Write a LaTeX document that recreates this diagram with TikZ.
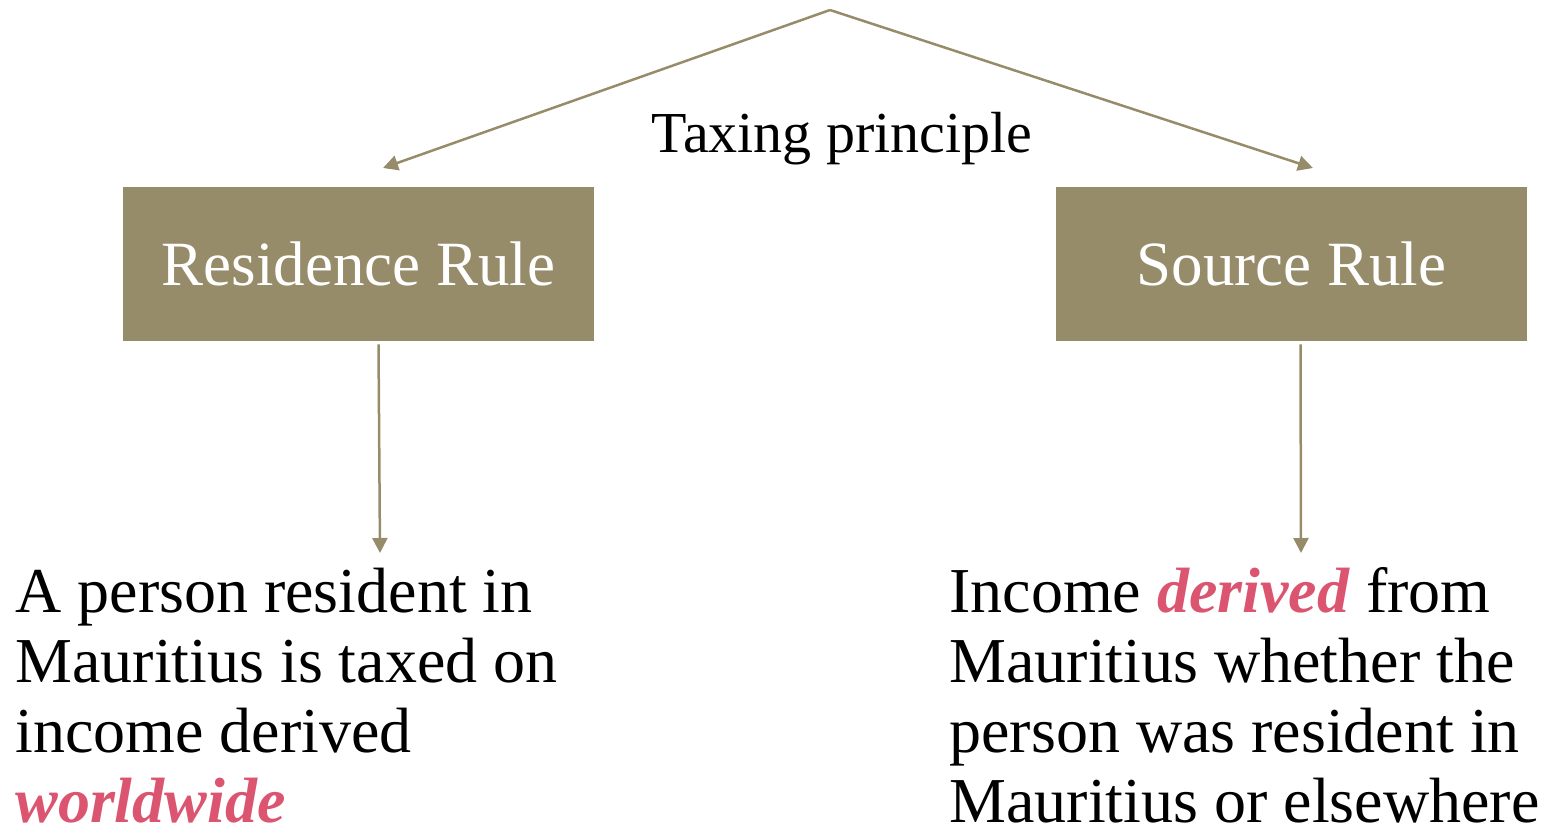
\documentclass[tikz,border=0pt]{standalone}
\usepackage{fontspec}
\setmainfont{Liberation Serif}
\usepackage{xcolor}
\usetikzlibrary{positioning,calc,arrows.meta}

\definecolor{khaki}{HTML}{968C6A}
\definecolor{rosered}{HTML}{DB5470}

\tikzset{
    rulebox/.style={fill=khaki, text=white, minimum width=235.5pt, minimum height=77pt,
        inner sep=0pt, font=\fontsize{31.5}{36}\selectfont},
    link/.style={draw=khaki, line width=1.25pt, -{Triangle[length=7.5pt,width=7.5pt]}},
    bodytext/.style={align=left, inner sep=0pt, anchor=base west,
        font=\fontsize{32}{35}\selectfont}
}
\newcommand{\hilite}[1]{\textcolor{rosered}{\textbf{\textit{#1}}}}

\begin{document}
\begin{tikzpicture}[x=0.5pt, y=-0.5pt]
    \useasboundingbox (0,0) rectangle (1549,826);

    % Top of the tree
    \coordinate (apex) at (830,10);
    \coordinate (resTip) at (383,168);
    \coordinate (srcTip) at (1313,168);
    \node[font=\fontsize{29}{34}\selectfont] (principle) at (842,139) {Taxing principle};

    % The two rules
    \node[rulebox] (res) at (358.5,264) {Residence Rule};
    \node[rulebox] (src) at (1291.5,264) {Source Rule};

    \draw[link] (apex) -- (resTip);
    \draw[link] (apex) -- (srcTip);

    % Descriptions (anchored on the last baseline)
    \node[bodytext] (resText) at (15,822) {A person resident in\\Mauritius is taxed on\\income derived\\\hilite{worldwide}};
    \node[bodytext] (srcText) at (949,822) {Income \hilite{derived} from\\Mauritius whether the\\person was resident in\\Mauritius or elsewhere};

    \coordinate (resEnd) at (380,553);
    \coordinate (srcEnd) at (1301,553);
    \draw[link] ([xshift=10pt,yshift=-1.5pt]res.south) -- (resEnd);
    \draw[link] ([xshift=4.5pt,yshift=-1.5pt]src.south) -- (srcEnd);
\end{tikzpicture}
\end{document}
